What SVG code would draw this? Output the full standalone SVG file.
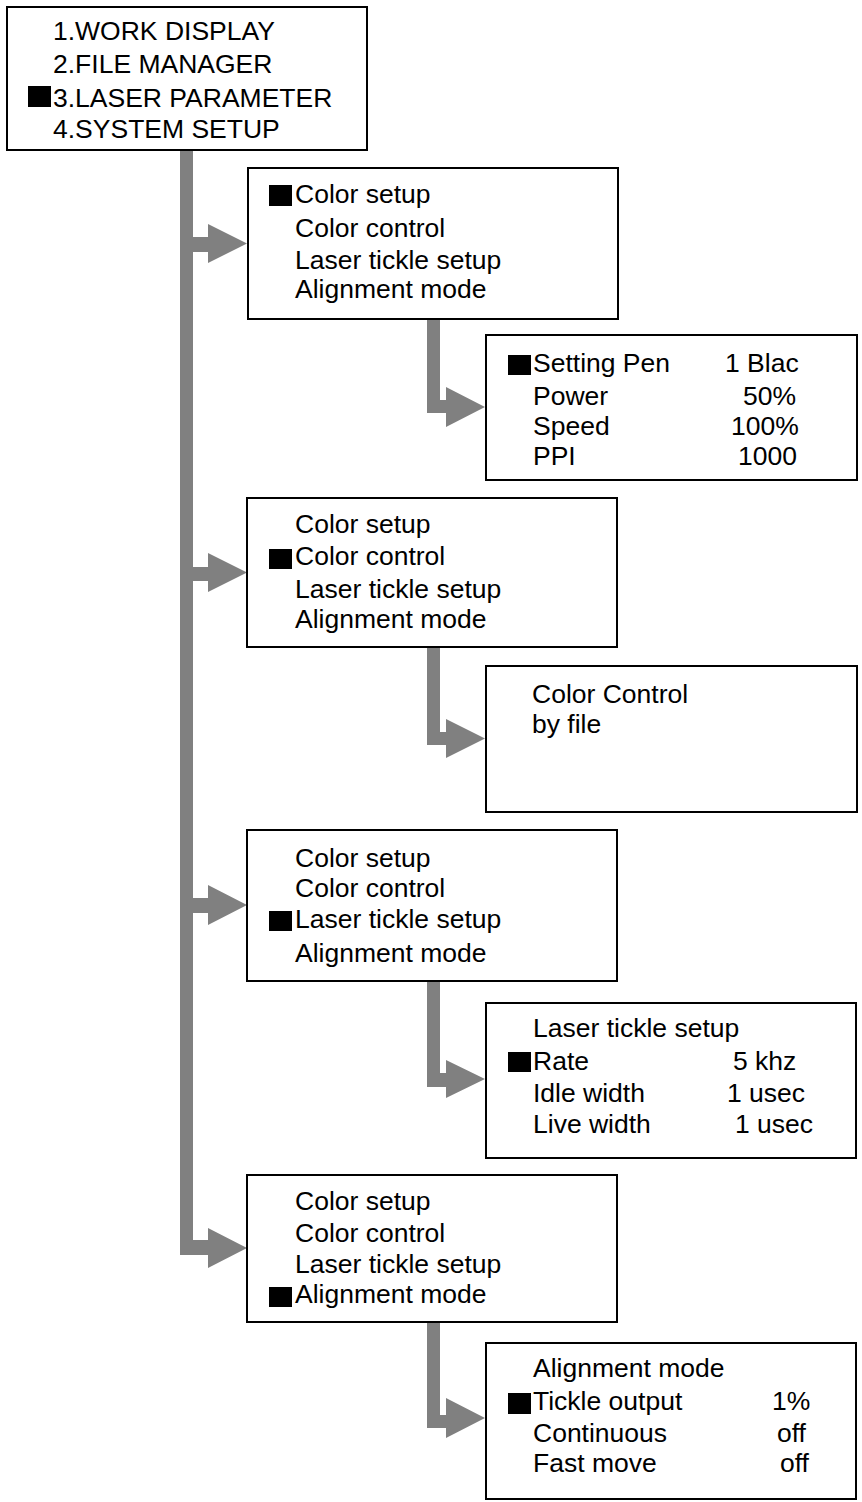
<svg xmlns="http://www.w3.org/2000/svg" width="862" height="1502" viewBox="0 0 862 1502">
<style>
.box{fill:#fff;stroke:#000;stroke-width:2}
.t{font-family:"Liberation Sans",Arial,sans-serif;font-size:26.5px;fill:#000}
.sq{fill:#000}
.arr{fill:#808080}
</style>
<rect width="862" height="1502" fill="#fff"/>
<g id="connectors">
  <rect class="arr" x="180" y="151" width="13" height="1104"/>
  <path class="arr" d="M193,237 H208 V224 L247,243.5 L208,263 V252 H193 Z"/>
  <path class="arr" d="M193,567 H208 V553 L247,572.5 L208,592 V581 H193 Z"/>
  <path class="arr" d="M193,898 H208 V885 L247,905 L208,925 V913 H193 Z"/>
  <path class="arr" d="M193,1240 H208 V1228 L247,1248 L208,1268 V1255 H193 Z"/>
  <path class="arr" d="M427,320 H440 V400 H446 V387 L485,407 L446,427 V413 H427 Z"/>
  <path class="arr" d="M427,648 H440 V732 H446 V719 L485,738.5 L446,758 V745 H427 Z"/>
  <path class="arr" d="M427,982 H440 V1073 H446 V1060 L485,1079 L446,1098 V1087 H427 Z"/>
  <path class="arr" d="M427,1323 H440 V1415 H446 V1398 L485,1418 L446,1438 V1428 H427 Z"/>
</g>
<g id="main-menu">
  <rect class="box" x="7" y="7" width="360" height="143"/>
  <text class="t" x="53" y="40">1.WORK DISPLAY</text>
  <text class="t" x="53" y="73">2.FILE MANAGER</text>
  <rect class="sq" x="28" y="86" width="23" height="21"/>
  <text class="t" x="53" y="107">3.LASER PARAMETER</text>
  <text class="t" x="53" y="138">4.SYSTEM SETUP</text>
</g>
<g id="menu-color-setup">
  <rect class="box" x="248" y="168" width="370" height="151"/>
  <rect class="sq" x="269" y="185" width="23" height="21"/>
  <text class="t" x="295" y="203">Color setup</text>
  <text class="t" x="295" y="237">Color control</text>
  <text class="t" x="295" y="269">Laser tickle setup</text>
  <text class="t" x="295" y="298">Alignment mode</text>
</g>
<g id="detail-color-setup">
  <rect class="box" x="486" y="335" width="371" height="145"/>
  <rect class="sq" x="508" y="355" width="23" height="20"/>
  <text class="t" x="533" y="372">Setting Pen</text>
  <text class="t" x="725" y="372">1 Blac</text>
  <text class="t" x="533" y="405">Power</text>
  <text class="t" x="743" y="405">50%</text>
  <text class="t" x="533" y="435">Speed</text>
  <text class="t" x="731" y="435">100%</text>
  <text class="t" x="533" y="465">PPI</text>
  <text class="t" x="738" y="465">1000</text>
</g>
<g id="menu-color-control">
  <rect class="box" x="247" y="498" width="370" height="149"/>
  <text class="t" x="295" y="533">Color setup</text>
  <rect class="sq" x="269" y="549" width="23" height="20"/>
  <text class="t" x="295" y="565">Color control</text>
  <text class="t" x="295" y="598">Laser tickle setup</text>
  <text class="t" x="295" y="628">Alignment mode</text>
</g>
<g id="detail-color-control">
  <rect class="box" x="486" y="666" width="371" height="146"/>
  <text class="t" x="532" y="703">Color Control</text>
  <text class="t" x="532" y="733">by file</text>
</g>
<g id="menu-laser-tickle">
  <rect class="box" x="247" y="830" width="370" height="151"/>
  <text class="t" x="295" y="867">Color setup</text>
  <text class="t" x="295" y="897">Color control</text>
  <rect class="sq" x="269" y="911" width="23" height="20"/>
  <text class="t" x="295" y="928">Laser tickle setup</text>
  <text class="t" x="295" y="962">Alignment mode</text>
</g>
<g id="detail-laser-tickle">
  <rect class="box" x="486" y="1003" width="370" height="155"/>
  <text class="t" x="533" y="1037">Laser tickle setup</text>
  <rect class="sq" x="508" y="1052" width="23" height="20"/>
  <text class="t" x="533" y="1070">Rate</text>
  <text class="t" x="733" y="1070">5 khz</text>
  <text class="t" x="533" y="1102">Idle width</text>
  <text class="t" x="727" y="1102">1 usec</text>
  <text class="t" x="533" y="1133">Live width</text>
  <text class="t" x="735" y="1133">1 usec</text>
</g>
<g id="menu-alignment">
  <rect class="box" x="247" y="1175" width="370" height="147"/>
  <text class="t" x="295" y="1210">Color setup</text>
  <text class="t" x="295" y="1242">Color control</text>
  <text class="t" x="295" y="1273">Laser tickle setup</text>
  <rect class="sq" x="269" y="1287" width="23" height="20"/>
  <text class="t" x="295" y="1303">Alignment mode</text>
</g>
<g id="detail-alignment">
  <rect class="box" x="486" y="1343" width="370" height="156"/>
  <text class="t" x="533" y="1377">Alignment mode</text>
  <rect class="sq" x="508" y="1393" width="23" height="21"/>
  <text class="t" x="533" y="1410">Tickle output</text>
  <text class="t" x="772" y="1410">1%</text>
  <text class="t" x="533" y="1442">Continuous</text>
  <text class="t" x="777" y="1442">off</text>
  <text class="t" x="533" y="1472">Fast move</text>
  <text class="t" x="780" y="1472">off</text>
</g>
</svg>
